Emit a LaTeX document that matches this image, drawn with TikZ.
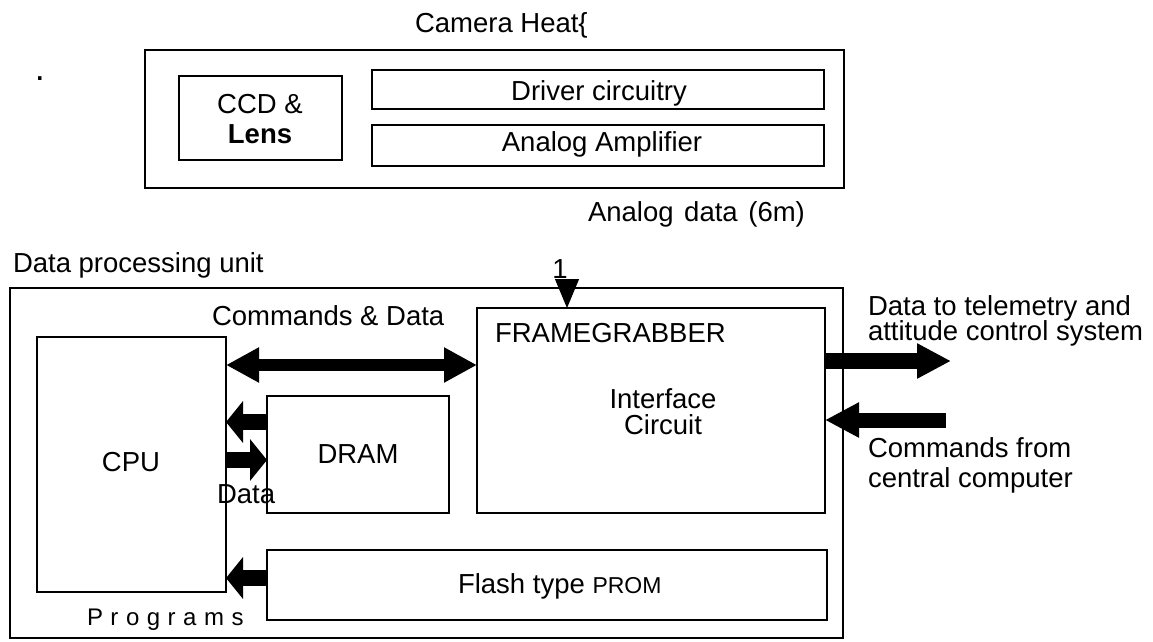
\documentclass[tikz,border=0pt]{standalone}
\usepackage{fontspec}
\setmainfont{Liberation Sans}
\usetikzlibrary{arrows.meta}
\newcommand{\lsp}{\hspace{7.5pt}}
\begin{document}
\begin{tikzpicture}[x=1pt,y=-1pt,
  box/.style={draw, line width=1.4pt, inner sep=0pt, outer sep=0pt},
  outerbox/.style={draw, line width=2pt, inner sep=0pt, outer sep=0pt},
  lbl/.style={font=\fontsize{27.5}{26}\selectfont, inner sep=0pt, outer sep=0pt},
  fatdouble/.style={line width=12pt, {Triangle[length=33pt,width=33pt]}-{Triangle[length=33pt,width=33pt]}},
  fatsmall/.style={line width=16pt, -{Triangle[length=17pt,width=41pt]}},
  fatbig/.style={line width=16pt, -{Triangle[length=34pt,width=33pt]}},
  downhead/.style={line width=1pt, -{Triangle[length=29pt,width=24pt]}}
]
\useasboundingbox (0,0) rectangle (1153,641);
\fill[white] (0,0) rectangle (1153,641);

% Camera head
\node[box, minimum width=699pt, minimum height=138pt] (cam) at (494.5,119) {};
\node[box, minimum width=163pt, minimum height=84pt] (ccd) at (260.5,118) {};
\node[box, minimum width=452pt, minimum height=39pt] (drv) at (598,89.5) {};
\node[box, minimum width=452pt, minimum height=41pt] (amp) at (598,145.5) {};
\node[lbl, anchor=base west] (camlbl) at (415,32) {Camera Heat\{};
\node[lbl, anchor=base] (ccdl1) at (260,113) {CCD \&};
\node[lbl, anchor=base, font=\fontsize{27.5}{26}\selectfont\bfseries] (ccdl2) at (260,143) {Lens};
\node[lbl, anchor=base] (drvl) at (599,100) {Driver circuitry};
\node[lbl, anchor=base] (ampl) at (602,151) {Analog Amplifier};
\node[lbl, anchor=base west] (adata) at (588,221) {Analog\hspace{3pt} data\hspace{3pt} (6m)};
\node[lbl, anchor=base, font=\fontsize{36}{36}\selectfont] (dot) at (40,80) {.};

% Data processing unit
\node[lbl, anchor=base west] (dpulbl) at (13,272) {Data processing unit};
\node[outerbox, minimum width=833pt, minimum height=350pt] (dpu) at (426.5,463) {};
\node[box, minimum width=189pt, minimum height=255pt] (cpu) at (131.5,464.5) {};
\node[box, minimum width=182pt, minimum height=117pt] (dram) at (358,454.5) {};
\node[box, minimum width=348pt, minimum height=205pt] (fg) at (651,410.5) {};
\node[box, minimum width=560pt, minimum height=70pt] (flash) at (547,585) {};

\node[lbl, anchor=base] (cpul) at (131,471) {CPU};
\node[lbl, anchor=base] (draml) at (358,463) {DRAM};
\node[lbl, anchor=base west] (fgl) at (495,342) {FRAMEGRABBER};
\node[lbl, anchor=base] (ifl1) at (663,408) {Interface};
\node[lbl, anchor=base] (ifl2) at (663,434) {Circuit};
\node[lbl, anchor=base west] (cdl) at (212,325) {Commands \& Data};
\node[lbl, anchor=base west] (datal) at (217,503) {Data};
\node[lbl, anchor=base west] (flashl) at (458,593) {Flash type {\fontsize{23}{23}\selectfont PROM}};
\node[lbl, anchor=base west, font=\fontsize{24}{24}\selectfont] (progl) at (87,625) {P\lsp r\lsp o\lsp g\lsp r\lsp a\lsp m\lsp s};
\node[lbl, anchor=base west] (tel1) at (868,315) {Data to telemetry and};
\node[lbl, anchor=base west] (tel2) at (868,340) {attitude control system};
\node[lbl, anchor=base west] (cmd1) at (868,457) {Commands from};
\node[lbl, anchor=base west] (cmd2) at (868,487) {central computer};
\node[lbl, anchor=base] (one) at (560,278) {1};

% arrow rows
\coordinate (rcd) at (0,365);
\coordinate (rdr1) at (0,422);
\coordinate (rdr2) at (0,460);
\coordinate (rfl) at (0,578);
\coordinate (rout) at (0,361);
\coordinate (rin) at (0,420);
\coordinate (outend) at (951,361);
\coordinate (inend) at (946,420);
\coordinate (downx) at (567,0);
\coordinate (downtop) at (567,279);

\draw[fatdouble] (cpu.east |- rcd) -- (fg.west |- rcd);
\draw[fatsmall] (dram.west |- rdr1) -- (cpu.east |- rdr1);
\draw[fatsmall] (cpu.east |- rdr2) -- (dram.west |- rdr2);
\draw[fatsmall] (flash.west |- rfl) -- (cpu.east |- rfl);
\draw[fatbig] (fg.east |- rout) -- (outend);
\draw[fatbig, line width=15pt] (inend) -- (fg.east |- rin);
\draw[downhead] (downtop) -- (downx |- fg.north);
\end{tikzpicture}
\end{document}
